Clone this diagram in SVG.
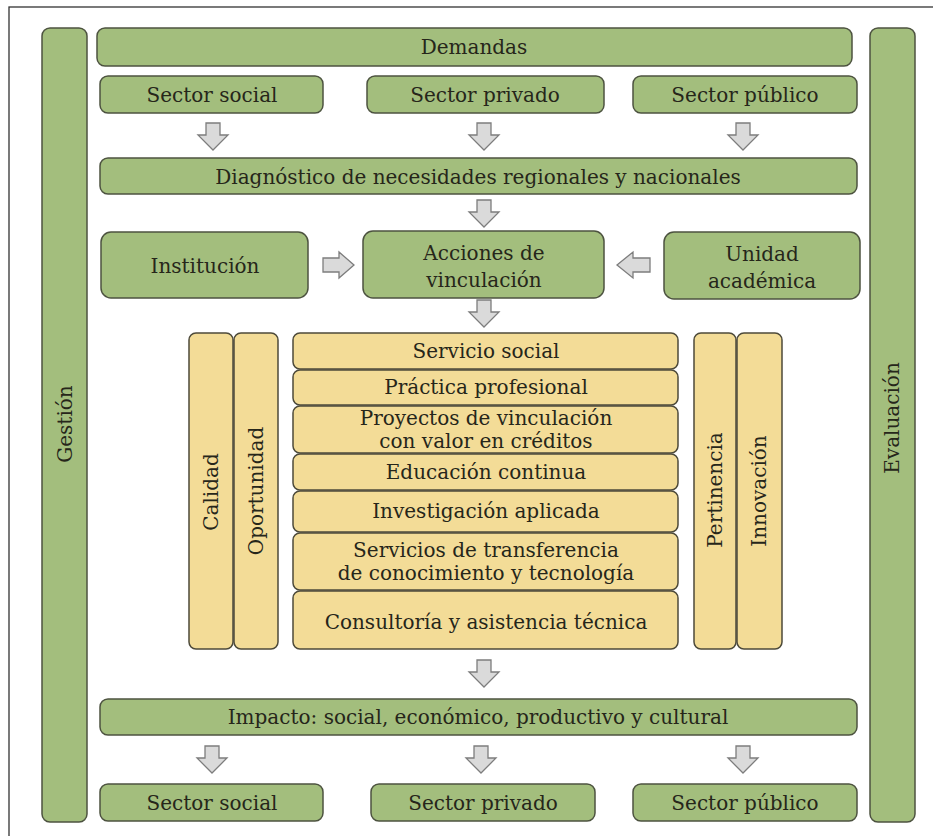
<svg xmlns="http://www.w3.org/2000/svg" width="933" height="836" viewBox="0 0 933 836">
<style>
text{font-family:"DejaVu Serif","Liberation Serif",serif;fill:#26261a;text-anchor:middle;dominant-baseline:central}
.t{font-size:20px}
.g{fill:#a3be7d;stroke:#4d5340;stroke-width:1.5}
.y{fill:#f3dc97;stroke:#4d4a3a;stroke-width:1.5}
.a{fill:#dadada;stroke:#7d7d7d;stroke-width:1.3}
</style>
<rect x="9" y="7" width="930" height="840" fill="#fff" stroke="#333" stroke-width="1.3"/>
<g id="gestion"><rect class="g" x="42" y="28" width="45" height="794" rx="8"/><text class="t" transform="translate(65,424) rotate(-90)">Gestión</text></g>
<g id="evaluacion"><rect class="g" x="870" y="28" width="45" height="794" rx="8"/><text class="t" transform="translate(892,418) rotate(-90)">Evaluación</text></g>
<g id="demandas"><rect class="g" x="97" y="28" width="755" height="38" rx="8"/><text class="t" x="474" y="47">Demandas</text></g>
<g id="sector-social-1"><rect class="g" x="100" y="76" width="223" height="37" rx="8"/><text class="t" x="212" y="95">Sector social</text></g>
<g id="sector-privado-1"><rect class="g" x="367" y="76" width="237" height="37" rx="8"/><text class="t" x="485" y="95">Sector privado</text></g>
<g id="sector-publico-1"><rect class="g" x="633" y="76" width="224" height="37" rx="8"/><text class="t" x="745" y="95">Sector público</text></g>
<g id="diagnostico"><rect class="g" x="100" y="158" width="757" height="36" rx="8"/><text class="t" x="478" y="177">Diagnóstico de necesidades regionales y nacionales</text></g>
<g id="institucion"><rect class="g" x="101" y="232" width="207" height="66" rx="10"/><text class="t" x="205" y="266">Institución</text></g>
<g id="acciones"><rect class="g" x="363" y="231" width="241" height="67" rx="10"/><text class="t" x="484" y="253">Acciones de</text><text class="t" x="484" y="280">vinculación</text></g>
<g id="unidad"><rect class="g" x="664" y="232" width="196" height="67" rx="10"/><text class="t" x="762" y="254">Unidad</text><text class="t" x="762" y="281">académica</text></g>
<g id="calidad"><rect class="y" x="189" y="333" width="44" height="316" rx="7"/><text class="t" transform="translate(211,492) rotate(-90)">Calidad</text></g>
<g id="oportunidad"><rect class="y" x="234" y="333" width="44" height="316" rx="7"/><text class="t" transform="translate(256,491) rotate(-90)">Oportunidad</text></g>
<g id="pertinencia"><rect class="y" x="694" y="333" width="42" height="316" rx="7"/><text class="t" transform="translate(715,490) rotate(-90)">Pertinencia</text></g>
<g id="innovacion"><rect class="y" x="737" y="333" width="45" height="316" rx="7"/><text class="t" transform="translate(759,491) rotate(-90)">Innovación</text></g>
<g id="servicio-social"><rect class="y" x="293" y="333" width="385" height="36" rx="7"/><text class="t" x="486" y="351">Servicio social</text></g>
<g id="practica"><rect class="y" x="293" y="370" width="385" height="35" rx="7"/><text class="t" x="486" y="387">Práctica profesional</text></g>
<g id="proyectos"><rect class="y" x="293" y="406" width="385" height="47" rx="7"/><text class="t" x="486" y="418">Proyectos de vinculación</text><text class="t" x="486" y="441">con valor en créditos</text></g>
<g id="educacion"><rect class="y" x="293" y="454" width="385" height="36" rx="7"/><text class="t" x="486" y="472">Educación continua</text></g>
<g id="investigacion"><rect class="y" x="293" y="491" width="385" height="41" rx="7"/><text class="t" x="486" y="511">Investigación aplicada</text></g>
<g id="transferencia"><rect class="y" x="293" y="533" width="385" height="57" rx="7"/><text class="t" x="486" y="550">Servicios de transferencia</text><text class="t" x="486" y="573">de conocimiento y tecnología</text></g>
<g id="consultoria"><rect class="y" x="293" y="591" width="385" height="58" rx="7"/><text class="t" x="486" y="622">Consultoría y asistencia técnica</text></g>
<g id="impacto"><rect class="g" x="100" y="699" width="757" height="36" rx="8"/><text class="t" x="478" y="717">Impacto: social, económico, productivo y cultural</text></g>
<g id="sector-social-2"><rect class="g" x="100" y="784" width="223" height="37" rx="8"/><text class="t" x="212" y="803">Sector social</text></g>
<g id="sector-privado-2"><rect class="g" x="371" y="784" width="224" height="37" rx="8"/><text class="t" x="483" y="803">Sector privado</text></g>
<g id="sector-publico-2"><rect class="g" x="633" y="784" width="224" height="37" rx="8"/><text class="t" x="745" y="803">Sector público</text></g>
<g id="connectors">
<defs><path id="dn" class="a" d="M-7,0H7V12H15L0,27L-15,12H-7Z"/></defs>
<use href="#dn" x="213" y="123"/>
<use href="#dn" x="484" y="123"/>
<use href="#dn" x="743" y="123"/>
<use href="#dn" x="484" y="200"/>
<use href="#dn" x="484" y="300"/>
<use href="#dn" x="484" y="660"/>
<use href="#dn" x="212" y="746"/>
<use href="#dn" x="481" y="746"/>
<use href="#dn" x="743" y="746"/>
<path class="a" d="M323,258H339V252L354,265L339,278V272H323Z"/>
<path class="a" d="M650,258H633V252L617,265L633,278V272H650Z"/>
</g>
</svg>
